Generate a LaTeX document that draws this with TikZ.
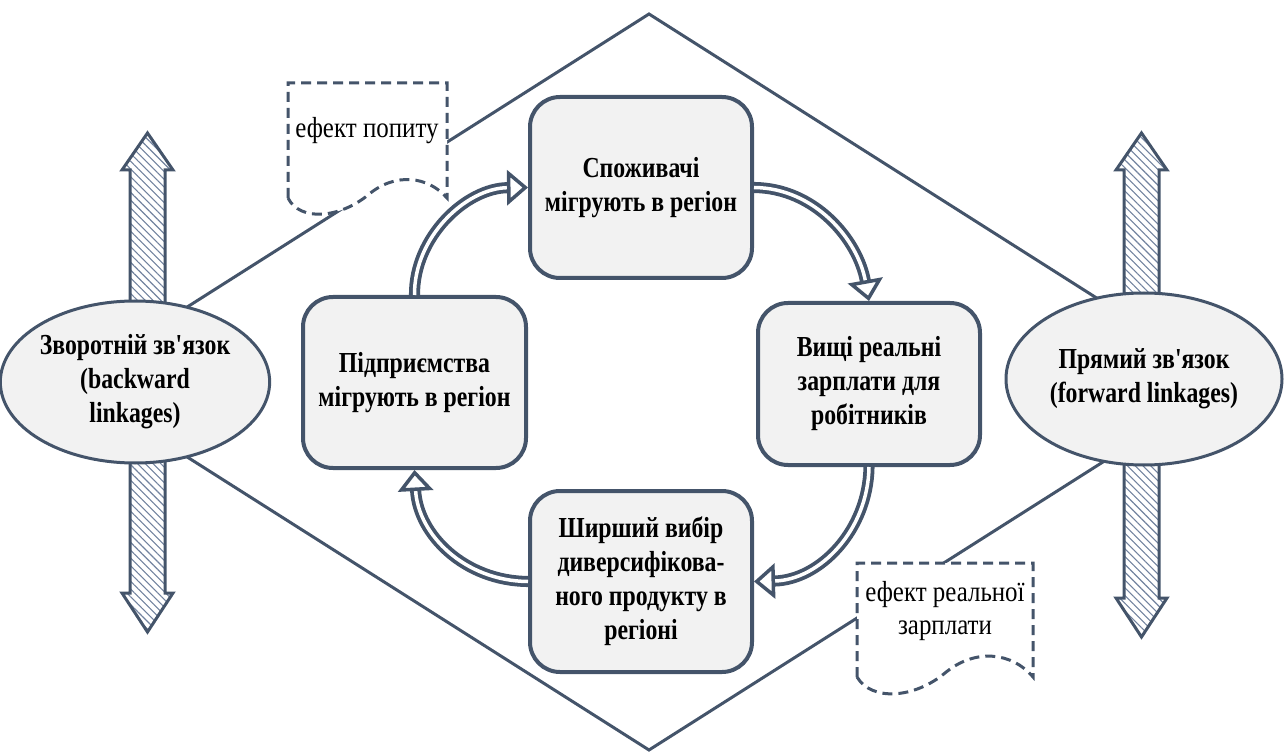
\documentclass[tikz,border=0pt]{standalone}
\usepackage{fontspec}
\setmainfont{Liberation Serif}
\newfontfamily\cond[FakeStretch=0.82]{Liberation Serif}
\newfontfamily\condnote[FakeStretch=0.86]{Liberation Serif}
\usetikzlibrary{shapes.geometric, arrows.meta, patterns.meta}

\definecolor{slate}{HTML}{44546A}
\definecolor{boxgray}{HTML}{F2F2F2}
\definecolor{hatchline}{HTML}{71829E}

\tikzset{
  stagebox/.style={draw=slate, line width=4, fill=boxgray, rounded corners=30,
    minimum width=222, align=center, inner sep=4,
    font=\cond\bfseries\fontsize{29}{34}\selectfont},
  linkoval/.style={ellipse, draw=slate, line width=3, fill=boxgray, align=center,
    inner sep=0, font=\cond\bfseries\fontsize{29}{34}\selectfont},
  cycarrow/.style={draw=slate, double=white, double distance=3.5, line width=3.8,
    -{Triangle[open, length=21, width=35, fill=white, line width'=3.5]}},
  hatcharrow/.style={draw=slate, line width=3, line join=miter,
    pattern={Lines[angle=-45, distance=5.5pt, line width=1.1pt]}, pattern color=hatchline},
  docshape/.style={draw=slate, line width=3, fill=white, dash pattern=on 10pt off 6pt},
  doctext/.style={align=center, font=\condnote\fontsize{29}{33}\selectfont},
}

\begin{document}
\begin{tikzpicture}[x=1pt, y=-1pt]
  \useasboundingbox (0,0) rectangle (1286,754);

  % outer diamond joining the two linkage ovals
  \coordinate (dtop) at (649,14);
  \coordinate (dright) at (1229,382);
  \coordinate (dbot) at (649,750);
  \coordinate (dleft) at (69,382);
  \draw[slate, line width=3] (dtop) -- (dright) -- (dbot) -- (dleft) -- cycle;

  % hatched double arrows behind the ovals
  \draw[hatcharrow] (130,170) -- (122,170) -- (147.5,133) -- (173,170) -- (165,170)
    -- (165,593) -- (173,593) -- (147.5,632) -- (122,593) -- (130,593) -- cycle;
  \draw[hatcharrow] (1124,170) -- (1116,170) -- (1141.5,133) -- (1167,170) -- (1159,170)
    -- (1159,598) -- (1167,598) -- (1141.5,637) -- (1116,598) -- (1124,598) -- cycle;

  % linkage ovals
  \node[linkoval, minimum width=254, minimum height=162] (back) at (135,382)
    {Зворотній зв'язок\\(backward\\linkages)};
  \node[linkoval, minimum width=276, minimum height=172] (fwd) at (1144,379)
    {Прямий зв'язок\\(forward linkages)};

  % dashed document notes
  \draw[docshape] (288,198) -- (288,83) -- (447,83) -- (447,198)
    .. controls (428,176) and (395,172) .. (368,195)
    .. controls (340,218) and (300,222) .. (288,198) -- cycle;
  \node[doctext] (demand) at (367,131) {ефект попиту};

  \draw[docshape] (857,677) -- (857,563) -- (1033,563) -- (1033,677)
    .. controls (1012,652) and (975,648) .. (945,673)
    .. controls (915,698) and (872,702) .. (857,677) -- cycle;
  \node[doctext] (wage) at (945,611) {ефект реальної\\зарплати};

  % stages of the cumulative cycle
  \node[stagebox, minimum height=181] (cons) at (641,187.5)
    {Споживачі\\мігрують в регіон};
  \node[stagebox, minimum height=162] (wages) at (869,384)
    {Вищі реальні\\зарплати для\\робітників};
  \node[stagebox, minimum height=181] (choice) at (641,581.5)
    {Ширший вибір\\диверсифікова-\\ного продукту в\\регіоні};
  \node[stagebox, minimum height=171, minimum width=223] (firms) at (414.5,382.5)
    {Підприємства\\мігрують в регіон};

  % cycle connectors
  \draw[cycarrow] (firms.north) .. controls (414,237) and (466,188) .. (cons.west);
  \draw[cycarrow] (cons.east) .. controls (815,188) and (858,240) .. (wages.north);
  \draw[cycarrow] (wages.south) .. controls (868,530) and (820,580) .. (choice.east);
  \draw[cycarrow] (choice.west) .. controls (465,581) and (418,535) .. (firms.south);
\end{tikzpicture}
\end{document}
